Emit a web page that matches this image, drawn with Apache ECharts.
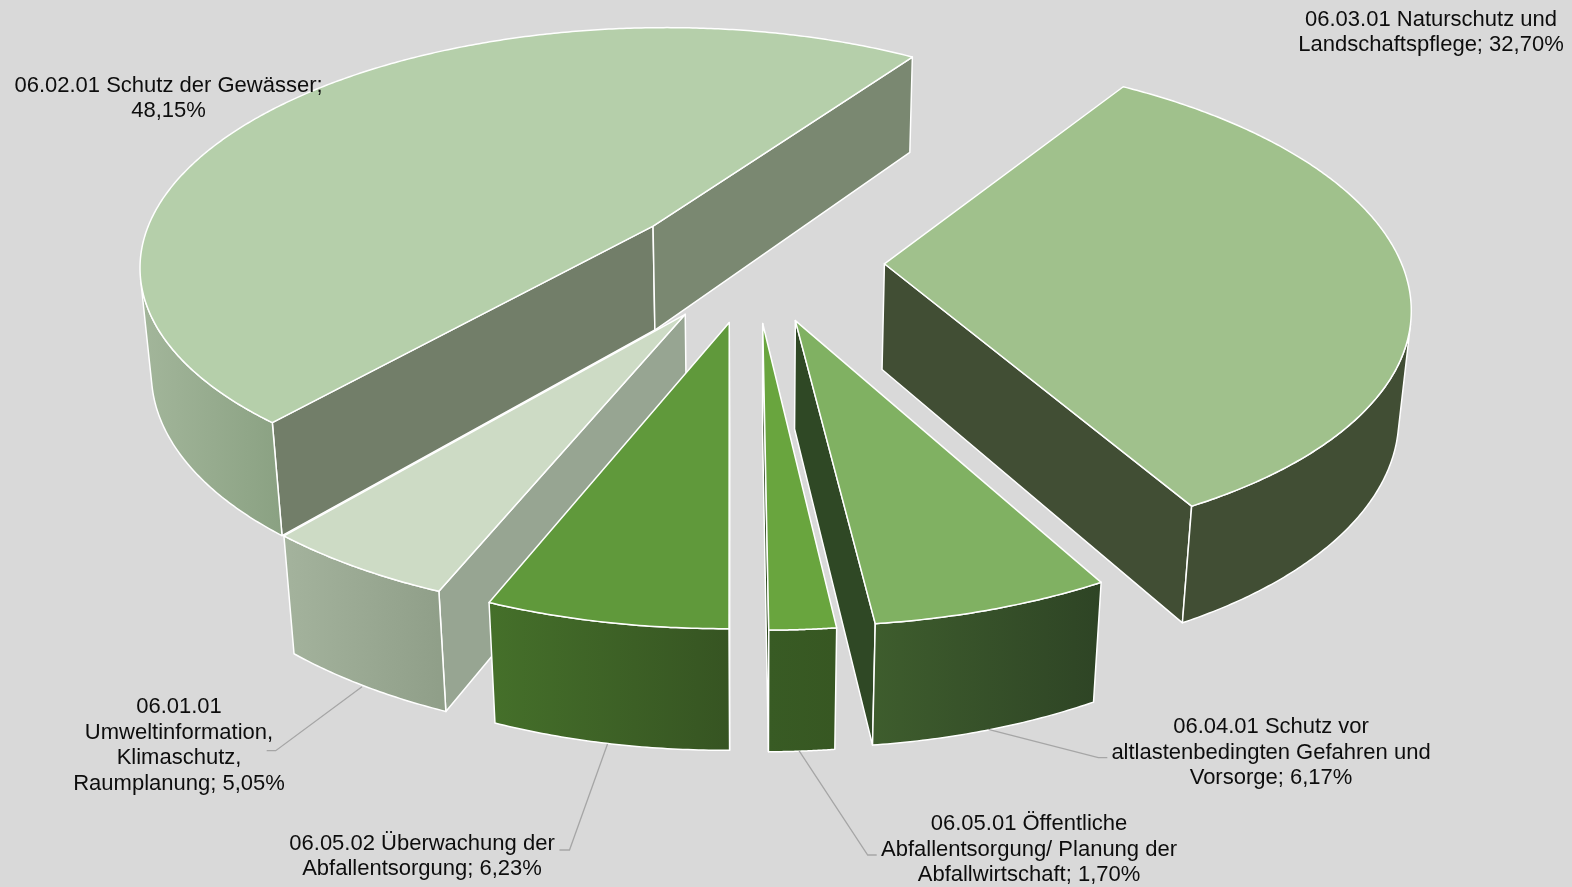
<!DOCTYPE html>
<html><head><meta charset="utf-8"><style>html,body{margin:0;background:#d9d9d9}#c{width:1572px;height:887px}</style>
<script src="https://cdn.jsdelivr.net/npm/echarts@6/dist/echarts.min.js"></script></head><body><div id="c"></div>
<script>
// Data, clockwise from the first slice
const categories=['06.03.01 Naturschutz und Landschaftspflege','06.04.01 Schutz vor altlastenbedingten Gefahren und Vorsorge','06.05.01 Öffentliche Abfallentsorgung/ Planung der Abfallwirtschaft','06.05.02 Überwachung der Abfallentsorgung','06.01.01 Umweltinformation, Klimaschutz, Raumplanung','06.02.01 Schutz der Gewässer'];
const values=[32.70,6.17,1.70,6.23,5.05,48.15];
const drawOrder=[5,0,4,1,3,2];

// Style per slice
const topColors=['#a0c18c','#80b162','#69a53e','#60993b','#cddbc5','#b5cfaa'];
const wallColors=[['#414e34','#414e34'],['#3e5d2d','#2e4425'],['#385b24','#375722'],['#45702a','#365422'],['#a4b39d','#8f9e88'],['#a3b69b','#8aa182']];
const cutStartColors=['#414e34','#2f4825','#2f4a20','#375422','#97a592','#727e69'];
const cutEndColors=['#414e34','#2f4825','#2f4a20','#365422','#97a592','#7a8871'];

// 3D view of the pie
const view={cx:754.54,cy:261.26,f:3003.23,d:5.8156,elev:0.4804,start:0.5854,height:0.235,explode:0.2513};
const camY=-view.d*Math.cos(view.elev);
function project(X,Y,Z){
  const yv=Y*Math.sin(view.elev)+Z*Math.cos(view.elev),D=view.d+Y*Math.cos(view.elev)-Z*Math.sin(view.elev);
  return [view.cx+view.f*X/D,view.cy-view.f*yv/D];
}
const total=values.reduce((a,b)=>a+b,0);
function sliceGeometry(i){
  let s=view.start;
  for(let k=0;k<i;k++)s+=values[k]/total*2*Math.PI;
  const t=values[i]/total*2*Math.PI,m=s+t/2,e=s+t;
  const ox=view.explode*Math.sin(m),oy=view.explode*Math.cos(m),steps=Math.max(40,Math.round(t*120));
  const angles=[];for(let k=0;k<=steps;k++)angles.push(s+t*k/steps);
  const at=(v,z)=>project(ox+Math.sin(v),oy+Math.cos(v),z);
  // only the part of the rim that faces the camera gets an outer wall
  const front=angles.filter(v=>Math.sin(v)*(ox+Math.sin(v))+Math.cos(v)*(oy+Math.cos(v)-camY)<0);
  return {
    top:angles.map(v=>at(v,0)),
    wallTop:front.map(v=>at(v,0)),wallBot:front.map(v=>at(v,-view.height)),
    apexT:project(ox,oy,0),apexB:project(ox,oy,-view.height),
    sT:at(s,0),sB:at(s,-view.height),eT:at(e,0),eB:at(e,-view.height),
    showStart:(-Math.cos(s))*ox+Math.sin(s)*(oy-camY)<0,
    showEnd:Math.cos(e)*ox-Math.sin(e)*(oy-camY)<0
  };
}
const edge={stroke:'#fff',lineWidth:1.5,lineJoin:'round'};
function face(points,fill){return {type:'polygon',shape:{points},style:Object.assign({fill},edge)};}
function renderSlice(params,api){
  const i=api.value(0),g=sliceGeometry(i),children=[];
  if(g.showStart)children.push(face([g.apexT,g.sT,g.sB,g.apexB],cutStartColors[i]));
  if(g.showEnd)children.push(face([g.apexT,g.eT,g.eB,g.apexB],cutEndColors[i]));
  if(g.wallTop.length>1){
    const grad=new echarts.graphic.LinearGradient(0,0,1,0,[{offset:0,color:wallColors[i][0]},{offset:1,color:wallColors[i][1]}]);
    children.push(face(g.wallTop.concat(g.wallBot.slice().reverse()),grad));
  }
  children.push(face([g.apexT].concat(g.top),topColors[i]));
  return {type:'group',children};
}

// Labels and leader lines
const labels=[
 {x:1431,y:32.5,text:'06.03.01 Naturschutz und\nLandschaftspflege; 32,70%'},
 {x:1271,y:752.5,text:'06.04.01 Schutz vor\naltlastenbedingten Gefahren und\nVorsorge; 6,17%'},
 {x:1029,y:849.5,text:'06.05.01 Öffentliche\nAbfallentsorgung/ Planung der\nAbfallwirtschaft; 1,70%'},
 {x:422,y:856.5,text:'06.05.02 Überwachung der\nAbfallentsorgung; 6,23%'},
 {x:179,y:745.5,text:'06.01.01\nUmweltinformation,\nKlimaschutz,\nRaumplanung; 5,05%'},
 {x:168.5,y:98.5,text:'06.02.01 Schutz der Gewässer;\n48,15%'}
];
const leaders=[
 [[988.3,729.3],[1098.3,757.7],[1107.3,757.7]],
 [[799,750.7],[867.7,855],[876.7,855]],
 [[607.5,744],[569.5,850],[559.5,850]],
 [[362,686.7],[275.7,750.7],[266.7,750.7]]
];

const chart=echarts.init(document.getElementById('c'),null,{renderer:'canvas'});
chart.setOption({
  animation:false,
  backgroundColor:'#d9d9d9',
  series:[{type:'custom',coordinateSystem:'none',silent:true,renderItem:renderSlice,
    data:drawOrder.map(i=>({name:categories[i],value:[i,values[i]]}))}],
  graphic:leaders.map(p=>({type:'polyline',silent:true,z:5,shape:{points:p},style:{stroke:'#a6a6a6',lineWidth:1.3,fill:null}}))
    .concat(labels.map(l=>({type:'text',silent:true,z:6,x:l.x,y:l.y,style:{text:l.text,fill:'#0d0d0d',font:'22px "Liberation Sans"',lineHeight:25.6,align:'center',verticalAlign:'middle'}})))
});
</script></body></html>
